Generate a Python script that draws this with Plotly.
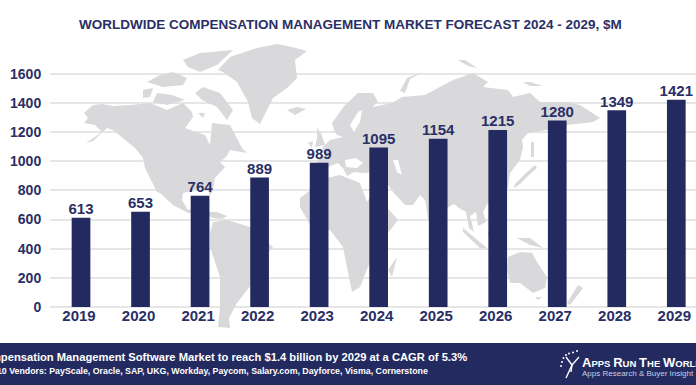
import plotly.graph_objects as go

categories = ["2019","2020","2021","2022","2023","2024","2025","2026","2027","2028","2029"]
market_values = [613,653,764,889,989,1095,1154,1215,1280,1349,1421]
y_ticks = [0,200,400,600,800,1000,1200,1400,1600]

TITLE = "WORLDWIDE COMPENSATION MANAGEMENT MARKET FORECAST 2024 - 2029, $M"
FOOT1 = "Compensation Management Software Market to reach $1.4 billion by 2029 at a CAGR of 5.3%"
FOOT2 = "Top 10 Vendors: PayScale, Oracle, SAP, UKG, Workday, Paycom, Salary.com, Dayforce, Visma, Cornerstone"

NAVY = "#232a60"
TEXT = "#2a2f66"
LAND = "#d9d9db"
GRID = "#e6e6e6"
FONT = "Liberation Sans"

# Decorative background map, outlines in page-pixel space
land = [
 # North America
 [(84,113),(93,105),(102,104),(113,106),(130,105),(150,103),(167,110),(183,103),(192,112),(193,117),(185,128),(205,135),(210,145),(212,123),(230,125),(242,148),(247,153),(230,150),(226,157),(220,162),(225,167),(215,178),(213,190),(210,196),(207,187),(183,193),(182,200),(188,210),(200,208),(205,205),(207,212),(217,212),(227,216),(222,219),(213,218),(200,213),(188,213),(173,205),(160,193),(157,192),(145,168),(143,158),(135,148),(128,142),(113,130),(107,128),(93,141),(86,143),(102,132),(95,125),(84,123),(88,118)],
 # Arctic Canada
 [(195,93),(203,87),(220,93),(233,110),(227,120),(217,107),(202,100)],
 [(143,90),(153,88),(150,97),(143,98)],
 [(157,93),(172,95),(185,100),(167,105),(153,102)],
 [(147,82),(160,75),(173,72),(187,78),(183,85),(163,87)],
 [(183,60),(200,53),(233,50),(217,65),(200,72),(188,67)],
 [(198,113),(205,113),(203,118)],
 # Greenland, Iceland, British Isles
 [(218,70),(230,57),(257,48),(277,44),(292,47),(307,51),(295,60),(297,78),(287,88),(273,98),(260,124),(252,118),(248,102),(237,82),(223,72)],
 [(287,110),(297,107),(306,109),(295,115)],
 [(317,128),(321,133),(325,145),(315,147),(317,138)],
 [(308,143),(313,141),(312,148)],
 # Eurasia
 [(332,123),(345,105),(358,93),(373,93),(378,102),(372,107),(392,103),(402,97),(425,95),(440,87),(453,80),(473,73),(488,82),(483,87),(508,90),(513,97),(530,93),(540,102),(567,102),(580,105),(600,118),(593,122),(567,125),(565,130),(547,130),(528,133),(522,140),(523,147),(520,160),(510,173),(508,187),(505,195),(488,203),(483,212),(486,222),(478,226),(476,212),(470,216),(474,232),(469,228),(466,212),(459,208),(454,204),(447,208),(437,222),(432,232),(428,218),(425,200),(420,195),(413,205),(405,205),(393,192),(382,176),(376,172),(362,173),(354,172),(347,176),(342,166),(349,175),(338,163),(330,166),(324,172),(316,170),(318,158),(326,155),(322,148),(330,140),(343,137),(337,135),(334,130)],
 # Africa
 [(300,198),(313,188),(327,178),(340,175),(360,183),(367,202),(373,192),(385,205),(398,220),(388,233),(372,257),(360,287),(352,292),(343,247),(330,230),(313,230),(300,207)],
 [(397,257),(392,277),(388,270)],
 # South America
 [(210,233),(213,222),(227,220),(250,227),(273,247),(268,253),(255,280),(237,303),(229,318),(230,328),(218,327),(220,307),(220,277),(210,247)],
 # Oceania and islands
 [(508,257),(520,252),(532,253),(537,262),(547,277),(545,288),(533,293),(520,283),(510,283),(507,270)],
 [(578,285),(583,288),(570,305),(567,303)],
 [(535,297),(542,297),(538,300)],
 [(517,238),(530,238),(543,248),(530,245)],
 [(463,228),(487,248),(480,248),(463,232)],
 [(535,165),(537,168),(528,176),(520,184),(514,188),(515,184),(527,172)],
 [(531,142),(534,142),(534,157),(531,157)],
 [(488,232),(505,232),(505,247),(490,245)],
 [(400,91),(407,78),(423,72),(410,79),(405,93)],
 [(458,60),(465,60),(477,68),(468,66)],
 [(523,82),(530,82),(543,86),(530,86)],
]
seas = [
 [(345,160),(356,158),(363,163),(357,168),(346,167)],
 [(393,160),(398,160),(402,175),(397,172)],
 [(350,125),(358,112),(362,110),(360,122),(354,132)],
]

def flatten(polys, i):
    out = []
    for p in polys:
        out += [pt[i] for pt in p] + [p[0][i], None]
    return out

fig = go.Figure()
fig.add_trace(go.Scatter(x=[None], y=[None], xaxis="x", yaxis="y", showlegend=False, hoverinfo="skip"))
fig.add_trace(go.Scatter(x=flatten(land,0), y=flatten(land,1), xaxis="x2", yaxis="y2", mode="lines",
                         fill="toself", fillcolor=LAND, line=dict(width=0), showlegend=False,
                         hoverinfo="skip", cliponaxis=False))
fig.add_trace(go.Scatter(x=flatten(seas,0), y=flatten(seas,1), xaxis="x2", yaxis="y2", mode="lines",
                         fill="toself", fillcolor="white", line=dict(width=0), showlegend=False,
                         hoverinfo="skip", cliponaxis=False))
fig.add_trace(go.Bar(x=categories, y=market_values, xaxis="x3", yaxis="y3", marker=dict(color=NAVY, line=dict(width=0)),
                     showlegend=False, hoverinfo="skip"))
fig.add_trace(go.Scatter(x=categories, y=market_values, xaxis="x3", yaxis="y3", mode="text",
                         text=[str(v) for v in market_values], textposition="top center", cliponaxis=False,
                         textfont=dict(family=FONT, size=15, color=TEXT, weight=700),
                         showlegend=False, hoverinfo="skip"))

YR = [-192, 1866]
tickfont = dict(family=FONT, size=14, color=TEXT, weight=700)
fig.update_layout(
    width=696, height=385, autosize=False,
    margin=dict(l=50, r=0, t=35, b=50),
    paper_bgcolor="white", plot_bgcolor="white", bargap=0.686,
    showlegend=False,
    xaxis=dict(visible=False, range=[0,1]),
    yaxis=dict(range=YR, tickvals=y_ticks, ticktext=[str(t) for t in y_ticks], showgrid=True, gridcolor=GRID,
               gridwidth=1.5, zeroline=False, showline=False, ticks="outside", ticklen=5,
               tickcolor="rgba(0,0,0,0)", tickfont=tickfont),
    xaxis2=dict(overlaying="x", anchor="y2", range=[50,696], visible=False),
    yaxis2=dict(overlaying="y", anchor="x2", range=[335,35], visible=False),
    xaxis3=dict(overlaying="x", anchor="free", position=28/300, type="category", range=[-0.521,10.331],
                showgrid=False, zeroline=False, showline=False, ticks="", ticklabelstandoff=-2,
                tickfont=dict(family=FONT, size=15, color=TEXT, weight=700),
                ticklabelshift=-2),
    yaxis3=dict(overlaying="y", anchor="x3", range=YR, visible=False),
)

def px(x): return (x-50)/646
def py(y): return (335-y)/300

def note(x, y, text, size, color="white", anchor="left", weight=700):
    fig.add_annotation(xref="paper", yref="paper", x=px(x), y=py(y), text=text, showarrow=False,
                       xanchor=anchor, yanchor="middle", align=anchor,
                       font=dict(family=FONT, size=size, color=color, weight=weight))

note(350, 24, TITLE, 13.5, TEXT, "center")

fig.add_shape(type="rect", xref="paper", yref="paper", x0=px(0), x1=px(696), y0=py(343), y1=py(385),
              fillcolor=NAVY, line=dict(width=0), layer="above")

note(469, 357, FOOT1, 11.2, "white", "right")
note(430, 371, FOOT2, 8.8, "white", "right")

s = lambda t, z: f'<span style="font-size:{z}px">{t}</span>'
note(580, 362, s("A",13)+s("PPS",9.5)+" "+s("R",13)+s("UN",9.5)+" "+s("T",13)+s("HE",9.5)+" "+s("W",13)+s("ORLD",9.5), 10, "white", "left")
note(580, 373, "Apps Research &amp; Buyer Insight", 8, "#c9cce0", "left", 400)

for cx, cy in [(577,351),(573,352.5),(569,353.5),(566,355),(563.5,358),(562,362),(561,366)]:
    fig.add_shape(type="circle", xref="paper", yref="paper", x0=px(cx-1), x1=px(cx+1), y0=py(cy-1), y1=py(cy+1),
                  fillcolor="white", line=dict(width=0), layer="above")
for x0, y0, x1, y1 in [(579,357,572,365),(572,365,566,378),(566,357,572,365),(572,365,571,372)]:
    fig.add_shape(type="line", xref="paper", yref="paper", x0=px(x0), y0=py(y0), x1=px(x1), y1=py(y1),
                  line=dict(color="white", width=1.4), layer="above")

fig.write_html("out.html", config=dict(displayModeBar=False),
               post_script="document.body.style.margin='0';document.body.style.overflow='hidden';")
